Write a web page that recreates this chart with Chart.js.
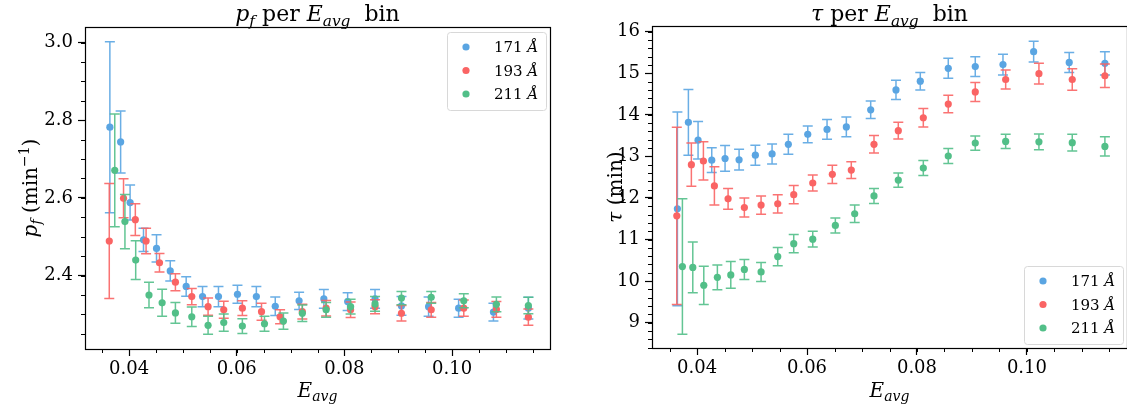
<!DOCTYPE html>
<html>
<head>
<meta charset="utf-8">
<script src="https://cdn.jsdelivr.net/npm/chart.js@4.4.1/dist/chart.umd.min.js"></script>
<style>
  html, body { margin: 0; padding: 0; background: #fff; overflow: hidden; }
  #wrap { position: relative; width: 1127px; height: 413px; overflow: hidden; }
  #pfChart { position: absolute; left: 0; top: 0; }
  #tauChart { position: absolute; left: 563px; top: 0; }
</style>
</head>
<body>
<div id="wrap">
  <canvas id="pfChart" width="563" height="413"></canvas>
  <canvas id="tauChart" width="568" height="413"></canvas>
</div>
<script>
const LABELS = ['171', '193', '211'];
const COLORS = ['#5aa5e2', '#fa6464', '#52bf88'];

// E_avg bin centres per wavelength
const E171 = [0.03642, 0.03842, 0.04018, 0.04267, 0.04509, 0.04764, 0.05060, 0.05364, 0.05660, 0.06013, 0.06364,
              0.06715, 0.07158, 0.07618, 0.08060, 0.08569, 0.09060, 0.09564, 0.10122, 0.10769, 0.11418];
const E193 = [0.03631, 0.03896, 0.04115, 0.04315, 0.04564, 0.04860, 0.05164, 0.05467, 0.05758, 0.06104, 0.06460,
              0.06805, 0.07218, 0.07660, 0.08115, 0.08569, 0.09060, 0.09613, 0.10218, 0.10824, 0.11418];
const E211 = [0.03733, 0.03922, 0.04122, 0.04369, 0.04613, 0.04860, 0.05164, 0.05467, 0.05758, 0.06104, 0.06515,
              0.06867, 0.07218, 0.07660, 0.08115, 0.08569, 0.09060, 0.09613, 0.10218, 0.10824, 0.11418];

// p_f (min^-1)
const PF171 = [2.782, 2.744, 2.588, 2.492, 2.470, 2.412, 2.372, 2.346, 2.346, 2.352, 2.346,
               2.321, 2.335, 2.340, 2.333, 2.340, 2.322, 2.320, 2.316, 2.306, 2.316];
const PF171_ERR = [0.220, 0.080, 0.045, 0.030, 0.035, 0.026, 0.025, 0.026, 0.026, 0.023, 0.026,
                   0.024, 0.022, 0.024, 0.023, 0.024, 0.024, 0.025, 0.023, 0.023, 0.028];
const PF193 = [2.489, 2.599, 2.544, 2.489, 2.433, 2.383, 2.346, 2.320, 2.312, 2.316, 2.307,
               2.294, 2.307, 2.316, 2.312, 2.320, 2.303, 2.312, 2.316, 2.313, 2.293];
const PF193_ERR = [0.148, 0.050, 0.041, 0.033, 0.024, 0.022, 0.021, 0.022, 0.022, 0.019, 0.022,
                   0.018, 0.019, 0.020, 0.020, 0.018, 0.020, 0.019, 0.021, 0.020, 0.021];
const PF211 = [2.671, 2.539, 2.440, 2.350, 2.330, 2.304, 2.294, 2.272, 2.279, 2.270, 2.276,
               2.283, 2.303, 2.312, 2.320, 2.327, 2.342, 2.344, 2.335, 2.326, 2.323];
const PF211_ERR = [0.145, 0.070, 0.050, 0.033, 0.035, 0.027, 0.025, 0.023, 0.022, 0.019, 0.019,
                   0.021, 0.021, 0.019, 0.019, 0.019, 0.017, 0.015, 0.018, 0.019, 0.021];

// tau (min)
const TAU171 = [11.74, 13.82, 13.39, 12.91, 12.95, 12.92, 13.03, 13.06, 13.29, 13.53, 13.65,
                13.71, 14.12, 14.60, 14.81, 15.12, 15.16, 15.21, 15.52, 15.26, 15.24];
const TAU171_ERR = [2.33, 0.79, 0.45, 0.30, 0.31, 0.25, 0.24, 0.24, 0.24, 0.20, 0.24,
                    0.24, 0.21, 0.23, 0.21, 0.24, 0.24, 0.25, 0.25, 0.24, 0.28];
const TAU193 = [11.57, 12.80, 12.89, 12.29, 11.98, 11.77, 11.83, 11.86, 12.08, 12.36, 12.57,
                12.67, 13.29, 13.62, 13.93, 14.26, 14.55, 14.85, 14.99, 14.85, 14.94];
const TAU193_ERR = [2.13, 0.52, 0.46, 0.46, 0.25, 0.23, 0.22, 0.22, 0.22, 0.19, 0.22,
                    0.20, 0.21, 0.20, 0.22, 0.21, 0.23, 0.23, 0.25, 0.26, 0.28];
const TAU211 = [10.35, 10.33, 9.90, 10.09, 10.15, 10.28, 10.22, 10.59, 10.90, 11.01, 11.34,
                11.62, 12.05, 12.43, 12.72, 13.01, 13.32, 13.36, 13.35, 13.33, 13.24];
const TAU211_ERR = [1.63, 0.61, 0.46, 0.30, 0.32, 0.24, 0.23, 0.22, 0.22, 0.19, 0.18,
                    0.21, 0.18, 0.17, 0.18, 0.18, 0.17, 0.17, 0.19, 0.20, 0.23];

const X_TICKS = [0.04, 0.06, 0.08, 0.10];
const PF_TICKS = [2.4, 2.6, 2.8, 3.0];
const TAU_TICKS = [9, 10, 11, 12, 13, 14, 15, 16];

const SERIF = '"DejaVu Serif", serif';

// draws a list of [text, style] runs; style: i = italic, s = subscript, p = superscript
function richWidth(ctx, parts, size) {
    let w = 0;
    parts.forEach(([t, st]) => {
        const small = st.includes('s') || st.includes('p');
        ctx.font = (st.includes('i') ? 'italic ' : '') + (small ? size * 0.7 : size) + 'px ' + SERIF;
        w += ctx.measureText(t).width;
    });
    return w;
}
function drawRich(ctx, parts, x, y, size, align) {
    let cx = align === 'left' ? x : x - richWidth(ctx, parts, size) / 2;
    ctx.textAlign = 'left';
    ctx.textBaseline = 'alphabetic';
    parts.forEach(([t, st]) => {
        const small = st.includes('s') || st.includes('p');
        ctx.font = (st.includes('i') ? 'italic ' : '') + (small ? size * 0.7 : size) + 'px ' + SERIF;
        let dy = 0;
        if (st.includes('s')) dy = size * 0.22;
        if (st.includes('p')) dy = -size * 0.42;
        ctx.fillText(t, cx, y + dy);
        cx += ctx.measureText(t).width;
    });
}

const errorBars = {
    id: 'errorBars',
    beforeDatasetDraw(chart, args) {
        const ds = chart.data.datasets[args.index];
        const xs = chart.scales.x, ys = chart.scales.y, a = chart.chartArea;
        const ctx = chart.ctx;
        ctx.save();
        ctx.beginPath();
        ctx.rect(a.left, a.top, a.right - a.left, a.bottom - a.top);
        ctx.clip();
        ctx.strokeStyle = ds.backgroundColor;
        ctx.globalAlpha = 0.9;
        ctx.lineWidth = 1.5;
        ds.data.forEach(p => {
            const x = xs.getPixelForValue(p.x);
            const y1 = ys.getPixelForValue(p.y + p.err);
            const y2 = ys.getPixelForValue(p.y - p.err);
            ctx.beginPath();
            ctx.moveTo(x, y1); ctx.lineTo(x, y2);
            ctx.moveTo(x - 5, y1); ctx.lineTo(x + 5, y1);
            ctx.moveTo(x - 5, y2); ctx.lineTo(x + 5, y2);
            ctx.stroke();
        });
        ctx.restore();
    }
};

const decorations = {
    id: 'decorations',
    afterDraw(chart, args, opts) {
        const ctx = chart.ctx, a = chart.chartArea;
        const xs = chart.scales.x, ys = chart.scales.y;
        ctx.save();
        ctx.fillStyle = '#000';
        ctx.strokeStyle = '#000';

        // minor ticks
        ctx.lineWidth = 1;
        ctx.beginPath();
        for (let k = Math.ceil(xs.min / opts.xMinor); k * opts.xMinor <= xs.max; k++) {
            const px = Math.round(xs.getPixelForValue(k * opts.xMinor)) + 0.5;
            ctx.moveTo(px, a.bottom); ctx.lineTo(px, a.bottom + 4);
        }
        for (let k = Math.ceil(ys.min / opts.yMinor - 1e-9); k * opts.yMinor <= ys.max; k++) {
            const py = Math.round(ys.getPixelForValue(k * opts.yMinor)) + 0.5;
            ctx.moveTo(a.left, py); ctx.lineTo(a.left - 4, py);
        }
        ctx.stroke();

        // frame
        ctx.lineWidth = 1.2;
        ctx.strokeRect(Math.round(a.left) + 0.5, Math.round(a.top) + 0.5,
                       Math.round(a.right - a.left), Math.round(a.bottom - a.top));

        // titles
        const cx = (a.left + a.right) / 2;
        drawRich(ctx, opts.title, cx, 21, 22);
        drawRich(ctx, [['E', 'i'], ['avg', 'is']], cx, 397, 20);
        ctx.save();
        ctx.translate(opts.yTitleX, (a.top + a.bottom) / 2);
        ctx.rotate(-Math.PI / 2);
        drawRich(ctx, opts.yTitle, 0, 0, 20);
        ctx.restore();

        // legend
        const bw = 99, bh = 78;
        const bx = a.right - 4 - bw;
        const by = opts.legendTop ? a.top + 5 : a.bottom - 4 - bh;
        ctx.fillStyle = 'rgba(255,255,255,0.85)';
        ctx.strokeStyle = '#d8d8d8';
        ctx.lineWidth = 1;
        ctx.beginPath();
        ctx.roundRect(bx + 0.5, by + 0.5, bw, bh, 3);
        ctx.fill();
        ctx.stroke();
        chart.data.datasets.forEach((ds, i) => {
            const ry = by + 15 + i * 23.5;
            ctx.fillStyle = ds.backgroundColor;
            ctx.beginPath();
            ctx.arc(bx + 19, ry, 3.6, 0, Math.PI * 2);
            ctx.fill();
            ctx.fillStyle = '#000';
            drawRich(ctx, [[ds.label + ' ', ''], ['Å', 'i']], bx + 47, ry + 5, 15, 'left');
        });
        ctx.restore();
    }
};

function points(xs, ys, errs) {
    return xs.map((x, i) => ({ x: x, y: ys[i], err: errs[i] }));
}

function makePanel(id, series, cfg) {
    const tickFont = { family: SERIF, size: 18 };
    return new Chart(document.getElementById(id), {
        type: 'scatter',
        data: {
            datasets: series.map((s, i) => ({
                label: LABELS[i],
                data: s,
                backgroundColor: COLORS[i],
                borderColor: COLORS[i],
                pointRadius: 3.6,
                pointBorderWidth: 0,
                order: 3 - i
            }))
        },
        options: {
            responsive: false,
            animation: false,
            devicePixelRatio: 1,
            layout: { padding: { top: cfg.top, right: cfg.right, left: 0, bottom: 0 } },
            plugins: {
                legend: { display: false },
                tooltip: { enabled: false },
                decorations: cfg.deco
            },
            scales: {
                x: {
                    type: 'linear',
                    min: 0.0318,
                    max: 0.1182,
                    afterFit: s => { s.height = cfg.xHeight; },
                    afterBuildTicks: s => { s.ticks = X_TICKS.map(v => ({ value: v })); },
                    ticks: { callback: v => v.toFixed(2), font: tickFont, color: '#000', padding: 3, maxRotation: 0, autoSkip: false },
                    grid: { drawOnChartArea: false, tickLength: 7, tickColor: '#000', tickWidth: 1.2 },
                    border: { display: false }
                },
                y: {
                    type: 'linear',
                    min: cfg.yMin,
                    max: cfg.yMax,
                    afterFit: s => { s.width = cfg.yWidth; },
                    afterBuildTicks: s => { s.ticks = cfg.yTicks.map(v => ({ value: v })); },
                    ticks: { callback: cfg.yFmt, font: tickFont, color: '#000', padding: 5, autoSkip: false },
                    grid: { drawOnChartArea: false, tickLength: 7, tickColor: '#000', tickWidth: 1.2 },
                    border: { display: false }
                }
            }
        },
        plugins: [errorBars, decorations]
    });
}

makePanel('pfChart', [
    points(E171, PF171, PF171_ERR),
    points(E193, PF193, PF193_ERR),
    points(E211, PF211, PF211_ERR)
], {
    top: 27, right: 13, xHeight: 64, yWidth: 85,
    yMin: 2.211, yMax: 3.040, yTicks: PF_TICKS, yFmt: v => v.toFixed(1),
    deco: {
        xMinor: 0.005, yMinor: 0.05, yTitleX: 37, legendTop: true,
        title: [['p', 'i'], ['f', 'is'], [' per ', ''], ['E', 'i'], ['avg', 'is'], ['  bin', '']],
        yTitle: [['p', 'i'], ['f', 'is'], [' (min', ''], ['−1', 'p'], [')', '']]
    }
});

makePanel('tauChart', [
    points(E171, TAU171, TAU171_ERR),
    points(E193, TAU193, TAU193_ERR),
    points(E211, TAU211, TAU211_ERR)
], {
    top: 26, right: 2, xHeight: 65, yWidth: 89,
    yMin: 8.391, yMax: 16.137, yTicks: TAU_TICKS, yFmt: v => String(v),
    deco: {
        xMinor: 0.005, yMinor: 0.2, yTitleX: 59, legendTop: false,
        title: [['τ', 'i'], [' per ', ''], ['E', 'i'], ['avg', 'is'], ['  bin', '']],
        yTitle: [['τ', 'i'], [' (min)', '']]
    }
});
</script>
</body>
</html>
